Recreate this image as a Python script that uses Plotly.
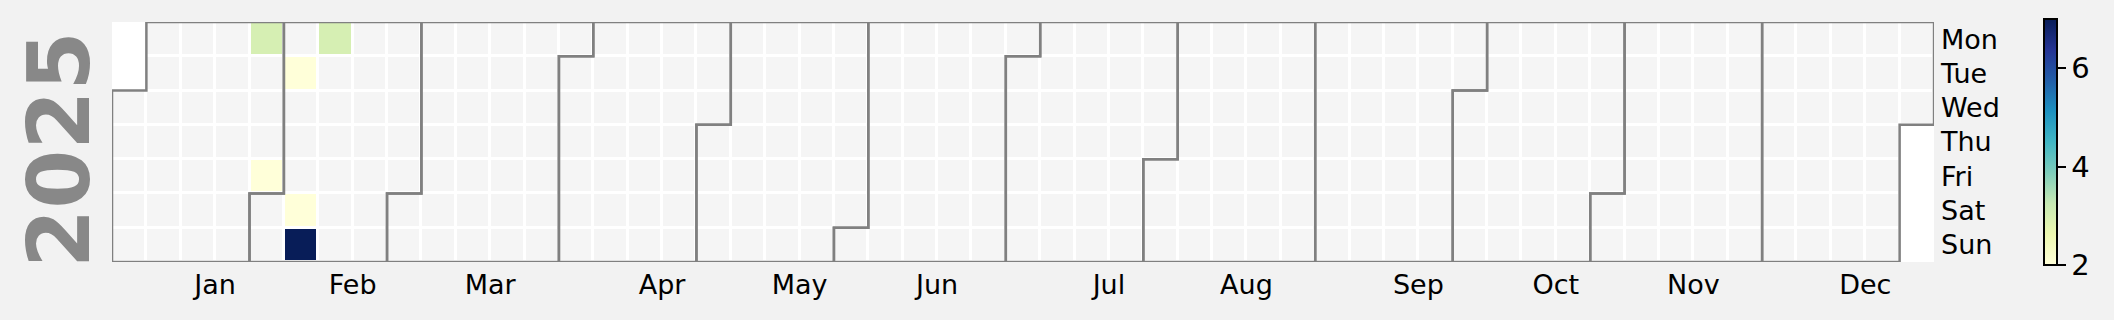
import datetime as dt
import plotly.graph_objects as go

# ---------------- data ----------------
year = 2025
dates = ["2025-01-27", "2025-01-31", "2025-02-04", "2025-02-08", "2025-02-09", "2025-02-10"]
values = [3, 2, 2, 2, 7, 3]
weekday_labels = ["Mon", "Tue", "Wed", "Thu", "Fri", "Sat", "Sun"]
month_labels = ["Jan", "Feb", "Mar", "Apr", "May", "Jun",
                "Jul", "Aug", "Sep", "Oct", "Nov", "Dec"]
cbar_ticks = [2, 4, 6]
vmin, vmax = 2, 7

# ---------------- calendar geometry ----------------
start = dt.date(year, 1, 1)
end = dt.date(year, 12, 31)
origin = start - dt.timedelta(days=start.weekday())
ncols = (end - origin).days // 7 + 1


def cell(d):
    return (d - origin).days // 7, d.weekday()


z_bg = [[None] * ncols for _ in range(7)]
d = start
while d <= end:
    c, r = cell(d)
    z_bg[r][c] = 1
    d += dt.timedelta(days=1)

z_data = [[None] * ncols for _ in range(7)]
for ds, v in zip(dates, values):
    c, r = cell(dt.date.fromisoformat(ds))
    z_data[r][c] = v

xs = [c + 0.5 for c in range(ncols)]
ys = [r + 0.5 for r in range(7)]

ylgnbu = [[0.0, "#ffffd9"], [0.125, "#edf8b1"], [0.25, "#c7e9b4"], [0.375, "#7fcdbb"],
          [0.5, "#41b6c4"], [0.625, "#1d91c0"], [0.75, "#225ea8"], [0.875, "#253494"],
          [1.0, "#081d58"]]

FONT = "DejaVu Sans"
fig = go.Figure()
fig.add_trace(go.Heatmap(
    x=xs, y=ys, z=z_bg, colorscale=[[0, "#f5f5f5"], [1, "#f5f5f5"]],
    showscale=False, xgap=3, ygap=3, hoverinfo="skip"))
fig.add_trace(go.Heatmap(
    x=xs, y=ys, z=z_data, colorscale=ylgnbu, zmin=vmin, zmax=vmax,
    xgap=3, ygap=3,
    colorbar=dict(
        x=1.0604, xanchor="left", y=0.5, yanchor="middle",
        len=246, lenmode="pixels", thickness=13, ypad=0, xpad=0,
        outlinewidth=2, outlinecolor="black",
        tickvals=cbar_ticks, ticks="outside", ticklen=8, tickwidth=2,
        tickprefix=" ",
        tickcolor="black", tickfont=dict(family=FONT, size=29, color="black"))))

# month outlines
shapes = []
for m in range(1, 13):
    first = dt.date(year, m, 1)
    last = (dt.date(year + 1, 1, 1) if m == 12 else dt.date(year, m + 1, 1)) - dt.timedelta(days=1)
    x0, y0 = cell(first)
    x1, y1 = cell(last)
    path = (f"M {x0},7 L {x0},{y0} L {x0+1},{y0} L {x0+1},0 L {x1+1},0 "
            f"L {x1+1},{y1+1} L {x1},{y1+1} L {x1},7 Z")
    shapes.append(dict(type="path", path=path, xref="x", yref="y",
                       line=dict(color="#808080", width=2.5)))

month_ticks = [dt.date(year, m, 15).isocalendar()[1] for m in range(1, 13)]

fig.update_layout(
    width=2114, height=320,
    margin=dict(l=112, r=180, t=22, b=58),
    paper_bgcolor="#f2f2f2", plot_bgcolor="white",
    shapes=shapes,
    font=dict(family=FONT, color="black"),
    xaxis=dict(range=[0, ncols], showgrid=False, zeroline=False,
               tickvals=month_ticks, ticktext=month_labels, ticks="",
               tickfont=dict(size=27), ticklabelstandoff=4, fixedrange=True),
    yaxis=dict(range=[7, 0], showgrid=False, zeroline=False, side="right",
               tickvals=ys, ticktext=weekday_labels, ticks="",
               tickfont=dict(size=27), ticklabelstandoff=6, fixedrange=True),
    annotations=[dict(text=f"<b>{year}</b>", xref="paper", yref="paper",
                      x=(59 - 112) / 1822, y=(262 - 150) / 240,
                      xanchor="center", yanchor="middle", textangle=-90,
                      showarrow=False,
                      font=dict(family=FONT, size=85, color="#888888"))],
)

fig.write_html("out.html")
